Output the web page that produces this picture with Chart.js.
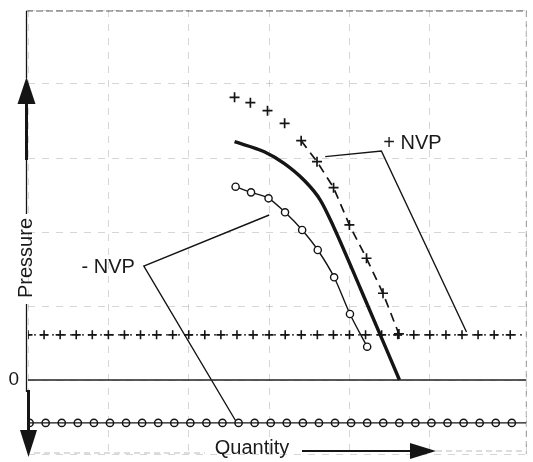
<!DOCTYPE html>
<html>
<head>
<meta charset="utf-8">
<script src="https://cdn.jsdelivr.net/npm/chart.js@4/dist/chart.umd.min.js"></script>
<style>
  html, body { margin: 0; padding: 0; background: #fff; }
  canvas { display: block; }
</style>
</head>
<body>
<canvas id="c" width="533" height="462"></canvas>
<script>
// ---- data ----
// upper curve: + NVP (crosses)
const plusNvpX = [25.7, 27.67, 29.8, 31.93, 33.99, 35.96, 38.02, 39.99, 42.12, 44.17, 46.15];
const plusNvpY = [38.2, 37.47, 36.39, 34.69, 32.34, 29.5, 25.99, 20.95, 16.45, 11.72, 6.22];
// middle curve: zero NVP (thick solid)
const zeroNvpX = [25.7, 29.4, 31.86, 34.32, 36.37, 38.02, 41.44, 46.22];
const zeroNvpY = [32.2, 30.85, 29.28, 27.03, 24.32, 20.72, 12.16, 0];
// lower curve: - NVP (circles)
const minusNvpX = [25.83, 27.75, 29.93, 31.98, 34.11, 36.05, 38.09, 40.06, 42.2];
const minusNvpY = [26.12, 25.36, 24.55, 22.66, 20.27, 17.57, 13.88, 8.92, 4.5];
// horizontal NVP levels
const plusLevel = 6.1;
const plusLevelX = [0, 2, 4, 6, 8, 10, 12, 14, 16, 18, 20, 22, 24, 26, 28, 30, 32, 34, 36, 38, 40, 42, 44, 46, 48, 50, 52, 54, 56, 58, 60];
const minusLevel = -5.8;
const minusLevelX = [0.2, 2.2, 4.2, 6.2, 8.2, 10.2, 12.2, 14.2, 16.2, 18.2, 20.2, 22.2, 24.2, 26.2, 28.2, 30.2, 32.2, 34.2, 36.2, 38.2, 40.2, 42.2, 44.2, 46.2, 48.2, 50.2, 52.2, 54.2, 56.2, 58.2, 60.2];
// leader lines of the labels
const plusLeaderX = [36.98, 43.97, 54.56];
const plusLeaderY = [30.18, 30.95, 6.49];
const minusLeaderX = [30.01, 14.41, 26.0];
const minusLeaderY = [22.3, 15.4, -5.81];
// axis range / labels
const xRange = [0, 62];
const yRange = [-10, 50];
const yTickLabels = ['0'];
const labelTexts = ['+ NVP', '- NVP'];
const axisTitles = ['Quantity', 'Pressure'];

const pts = (xs, ys) => xs.map((x, i) => ({ x: x, y: ys[i] }));
const lvl = (xs, y) => xs.map(x => ({ x: x, y: y }));

const INK = '#151515';
const FONT = '20px "Liberation Sans", Arial, sans-serif';

const overlay = {
  id: 'overlay',
  afterDraw(chart) {
    const { ctx, chartArea: a, scales: { x, y } } = chart;
    ctx.save();
    // frame: top (dashed), right, bottom
    ctx.strokeStyle = 'rgba(40,40,40,0.75)';
    ctx.lineWidth = 1.2;
    ctx.setLineDash([7, 3]);
    ctx.beginPath();
    ctx.moveTo(a.left - 2, a.top + 1); ctx.lineTo(a.right, a.top + 1);
    ctx.stroke();
    ctx.strokeStyle = 'rgba(60,60,60,0.35)';
    ctx.setLineDash([6, 4]);
    ctx.beginPath();
    ctx.moveTo(a.right, a.top + 1); ctx.lineTo(a.right, a.bottom);
    ctx.moveTo(a.left + 6, a.bottom - 1); ctx.lineTo(205, a.bottom - 1);
    ctx.moveTo(436, a.bottom - 3); ctx.lineTo(a.right, a.bottom - 3);
    ctx.stroke();
    ctx.setLineDash([]);

    // vertical pressure axis
    const ax = a.left - 1.5;
    ctx.strokeStyle = INK;
    ctx.lineWidth = 1.3;
    ctx.beginPath();
    ctx.moveTo(ax, a.top + 1); ctx.lineTo(ax, 78);
    ctx.moveTo(ax, 160); ctx.lineTo(ax, 214);
    ctx.moveTo(ax, 304); ctx.lineTo(ax, 392);
    ctx.stroke();
    ctx.lineWidth = 3;
    ctx.beginPath();
    ctx.moveTo(ax, 100); ctx.lineTo(ax, 160);
    ctx.moveTo(ax + 2, 390); ctx.lineTo(ax + 2, 432);
    ctx.stroke();
    ctx.fillStyle = INK;
    ctx.beginPath();
    ctx.moveTo(ax, 77); ctx.lineTo(ax - 9, 104); ctx.lineTo(ax + 9, 104); ctx.closePath();
    ctx.fill();
    ctx.beginPath();
    ctx.moveTo(ax + 2, 457); ctx.lineTo(ax - 6.5, 430); ctx.lineTo(ax + 10.5, 430); ctx.closePath();
    ctx.fill();

    // quantity arrow
    ctx.lineWidth = 2;
    ctx.beginPath();
    ctx.moveTo(302, 451); ctx.lineTo(412, 451);
    ctx.stroke();
    ctx.beginPath();
    ctx.moveTo(436, 451); ctx.lineTo(410, 443); ctx.lineTo(410, 459); ctx.closePath();
    ctx.fill();

    // texts
    ctx.fillStyle = '#1a1a1a';
    ctx.font = FONT;
    ctx.textBaseline = 'middle';
    ctx.textAlign = 'center';
    ctx.fillText(axisTitles[0], 252, 448);
    ctx.save();
    ctx.translate(ax, 258);
    ctx.rotate(-Math.PI / 2);
    ctx.fillText(axisTitles[1], 0, 0);
    ctx.restore();
    ctx.font = '19px "Liberation Sans", Arial, sans-serif';
    ctx.textAlign = 'right';
    ctx.fillText(yTickLabels[0], 19, y.getPixelForValue(0));
    ctx.font = FONT;
    ctx.textAlign = 'left';
    ctx.fillText(labelTexts[0], x.getPixelForValue(44.2), y.getPixelForValue(32.0));
    ctx.textAlign = 'right';
    ctx.fillText(labelTexts[1], x.getPixelForValue(13.3), y.getPixelForValue(15.2));
    ctx.restore();
  }
};

new Chart(document.getElementById('c'), {
  type: 'scatter',
  data: {
    datasets: [
      { // zero line
        data: lvl([xRange[0], xRange[1]], 0), showLine: true, pointRadius: 0,
        borderColor: '#222', borderWidth: 1.3
      },
      { // + NVP level rail
        data: lvl([xRange[0], xRange[1]], plusLevel), showLine: true, pointRadius: 0,
        borderColor: INK, borderWidth: 1.4, borderDash: [2, 4]
      },
      { // + NVP level crosses
        data: lvl(plusLevelX, plusLevel), showLine: false,
        pointStyle: 'cross', pointRadius: 4.5, borderColor: INK, borderWidth: 1.6
      },
      { // - NVP level rail with circles
        data: lvl([xRange[0], xRange[1]], minusLevel), showLine: true, pointRadius: 0,
        borderColor: INK, borderWidth: 1.4
      },
      {
        data: lvl(minusLevelX, minusLevel), showLine: false,
        pointStyle: 'circle', pointRadius: 3.6, borderColor: INK, borderWidth: 1.5,
        backgroundColor: '#fff'
      },
      { // leaders
        data: pts(plusLeaderX, plusLeaderY), showLine: true, pointRadius: 0,
        borderColor: INK, borderWidth: 1.4
      },
      {
        data: pts(minusLeaderX, minusLeaderY), showLine: true, pointRadius: 0,
        borderColor: INK, borderWidth: 1.4
      },
      { // thick middle curve
        data: pts(zeroNvpX, zeroNvpY), showLine: true, pointRadius: 0,
        borderColor: INK, borderWidth: 3.4, cubicInterpolationMode: 'monotone'
      },
      { // - NVP curve
        data: pts(minusNvpX, minusNvpY), showLine: true,
        pointStyle: 'circle', pointRadius: 3.6, borderColor: INK, borderWidth: 1.4,
        pointBackgroundColor: '#fff', cubicInterpolationMode: 'monotone'
      },
      { // + NVP curve
        data: pts(plusNvpX, plusNvpY), showLine: true,
        pointStyle: 'cross', pointRadius: 5, borderColor: INK, borderWidth: 1.7,
        borderDash: [9, 6], pointBorderColor: INK,
        segment: { borderColor: c => c.p0DataIndex < 4 ? 'rgba(0,0,0,0)' : INK }
      }
    ]
  },
  options: {
    responsive: false,
    animation: false,
    layout: { padding: { left: 28, right: 2, top: 10, bottom: 8 } },
    plugins: { legend: { display: false }, tooltip: { enabled: false }, title: { display: false } },
    elements: { line: { tension: 0 } },
    scales: {
      x: {
        type: 'linear', min: xRange[0], max: xRange[1],
        ticks: { display: false, stepSize: 10 },
        grid: { color: 'rgba(0,0,0,0.16)', drawTicks: false, lineWidth: 1 },
        border: { display: false, dash: [7, 7] },
        afterFit: s => { s.height = 0; }
      },
      y: {
        type: 'linear', min: yRange[0], max: yRange[1],
        ticks: { display: false, stepSize: 10 },
        grid: { color: 'rgba(0,0,0,0.16)', drawTicks: false, lineWidth: 1 },
        border: { display: false, dash: [7, 7] },
        afterFit: s => { s.width = 0; }
      }
    }
  },
  plugins: [overlay]
});
</script>
</body>
</html>
